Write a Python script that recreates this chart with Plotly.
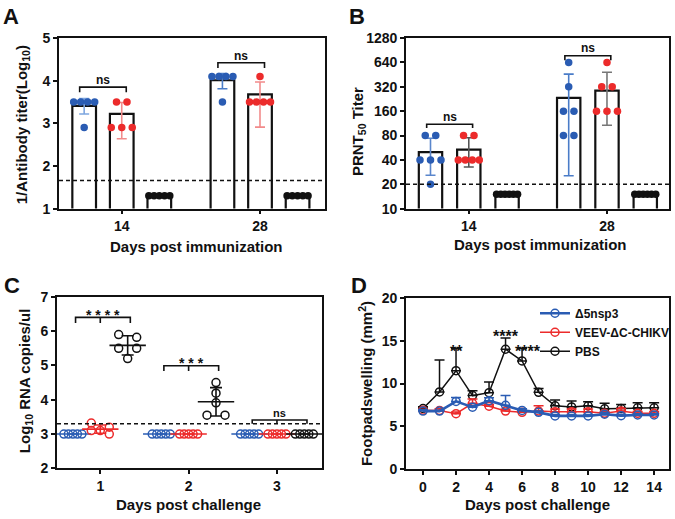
import numpy as np
import plotly.graph_objects as go

W, H = 675, 519
FONT = "Liberation Sans, Arial, Helvetica, sans-serif"
BLUE = "#2a5cb3"
RED = "#ec2b2b"
BLACK = "#111111"
LBLUE = "#7ea6e0"
LRED = "#f28b8b"

# ---------------- Panel A data ----------------
a_days = ["14", "28"]
a_blue_mean = [3.41, 4.01]
a_blue_hi = [3.58, 4.17]
a_blue_lo = [3.22, 3.81]
a_red_mean = [3.22, 3.68]
a_red_hi = [3.49, 3.97]
a_red_lo = [2.64, 2.91]
a_pbs_mean = [1.30, 1.30]
a_blue_pts = [[3.5, 3.5, 3.5, 3.5, 2.9], [4.1, 4.1, 4.1, 4.1, 3.5]]
a_red_pts = [[3.5, 3.5, 2.9, 2.9, 2.9], [4.1, 3.5, 3.5, 3.5, 3.5]]
a_pbs_pts = [[1.3, 1.3, 1.3, 1.3, 1.3], [1.3, 1.3, 1.3, 1.3, 1.3]]
a_cutoff = 1.66
a_yticks = [1, 2, 3, 4, 5]

# ---------------- Panel B data ----------------
b_days = ["14", "28"]
b_blue_mean = [50, 234]
b_blue_hi = [74, 458]
b_blue_lo = [25.8, 25.5]
b_red_mean = [53.5, 286]
b_red_hi = [75, 484]
b_red_lo = [32.7, 107]
b_pbs_mean = [15, 15]
b_blue_pts = [[80, 80, 40, 40, 40, 20], [640, 320, 160, 160, 80, 80]]
b_red_pts = [[80, 80, 40, 40, 40, 40], [640, 320, 320, 160, 160, 160]]
b_pbs_pts = [[15, 15, 15, 15, 15, 15], [15, 15, 15, 15, 15, 15]]
b_cutoff = 20
b_yticks = [10, 20, 40, 80, 160, 320, 640, 1280]

# ---------------- Panel C data ----------------
c_days = [1, 2, 3]
c_blue = [[3, 3, 3, 3, 3], [3, 3, 3, 3, 3], [3, 3, 3, 3, 3]]
c_red = [[3.32, 3.2, 3.1, 3.1, 3.0], [3, 3, 3, 3, 3], [3, 3, 3, 3, 3]]
c_pbs = [[5.9, 5.82, 5.5, 5.5, 5.2], [4.5, 4.19, 3.91, 3.55, 3.55], [3, 3, 3, 3, 3]]
c_cutoff = 3.3
c_stars = ["* * * *", "* * *", "ns"]

# ---------------- Panel D data ----------------
d_days = list(range(15))
d_blue = [6.79, 6.79, 7.92, 7.25, 8.0, 7.47, 6.87, 6.64, 6.23, 6.23, 6.23, 6.42, 6.26, 6.34, 6.34]
d_blue_sd = [0.15, 0.1, 0.46, 0.2, 0.35, 1.13, 0.2, 0.15, 0.15, 0.15, 0.15, 0.2, 0.15, 0.15, 0.15]
d_red = [6.9, 6.87, 6.49, 7.7, 7.36, 6.79, 6.64, 6.79, 6.72, 6.72, 6.72, 6.53, 6.79, 6.53, 6.53]
d_red_sd = [0.1, 0.2, 0.2, 0.5, 0.2, 0.2, 0.2, 0.61, 0.3, 0.3, 0.3, 0.2, 0.3, 0.2, 0.2]
d_pbs = [7.09, 9.02, 11.5, 8.6, 8.94, 14.0, 12.64, 8.98, 7.4, 7.28, 7.4, 7.06, 7.09, 7.17, 7.17]
d_pbs_sd = [0.2, 3.73, 2.58, 0.57, 1.25, 1.3, 1.44, 0.45, 0.68, 0.68, 0.49, 0.64, 0.46, 0.6, 0.6]
d_names = ["Δ5nsp3", "VEEV-ΔC-CHIKV", "PBS"]
d_star_days = [2, 5, 6.37]
d_star_y = [13.7, 15.5, 13.7]
d_star_txt = ["**", "****", "****"]

# ---------------- layout geometry (pixels) ----------------
def dom_x(l, r):
    return [l / W, r / W]

def dom_y(t, b):
    return [1 - b / H, 1 - t / H]

A_DX, A_DY = (59, 325), (31, 207)
B_DX, B_DY = (406, 669), (31, 207)
C_DX, C_DY = (57, 322), (298, 475)
D_DX, D_DY = (406, 669), (299, 476)

A_XR = [-1.67, 5.41]
B_XR = [-1.64, 5.23]
C_XR = [0.51, 3.51]
D_XR = [-1.03, 14.9]
A_YR = [1, 5]
B_YR = [1, np.log10(1280)]
C_YR = [2, 7]
D_YR = [0, 20]

a_centers = [0, 3.68]
b_centers = [0, 3.61]

def ppu(dom, rng):
    return (dom[1] - dom[0]) / (rng[1] - rng[0])

def swarm(values, center, xppu, v2px, diam, span, maxsp):
    vals = sorted(values, reverse=True)
    rows = []
    for v in vals:
        if rows and abs(v2px(rows[-1][0]) - v2px(v)) < diam:
            rows[-1].append(v)
        else:
            rows.append([v])
    xs, ys = [], []
    for row in rows:
        n = len(row)
        sp = min(maxsp, span / (n - 1)) if n > 1 else 0
        for i, v in enumerate(row):
            xs.append(center + (i - (n - 1) / 2) * sp / xppu)
            ys.append(v)
    return xs, ys

fig = go.Figure()

def bracket(xa, ya, x0, x1, ylow, ytop, mid=None):
    xs = [x0, x0, x1, x1]
    ys = [ylow, ytop, ytop, ylow]
    if mid is not None:
        xs += [None, mid, mid]
        ys += [None, ytop, ylow]
    fig.add_trace(go.Scatter(x=xs, y=ys, mode="lines", xaxis=xa, yaxis=ya,
                             line=dict(color=BLACK, width=1.6), showlegend=False,
                             hoverinfo="skip"))

# ---------------- Panel A ----------------
axp = ppu(A_DX, A_XR)
ayp = ppu(A_DY, A_YR)
bw_a = 0.63
for means, off in [(a_blue_mean, -1), (a_red_mean, 0), (a_pbs_mean, 1)]:
    fig.add_trace(go.Bar(x=[c + off for c in a_centers], y=means, width=bw_a,
                         marker=dict(color="white", line=dict(color=BLACK, width=2.2)),
                         xaxis="x", yaxis="y", showlegend=False))
err_cols_a = [[LBLUE, "#4a7cc8"], [LRED, LRED]]
for gi, (means, hi, lo, off) in enumerate([(a_blue_mean, a_blue_hi, a_blue_lo, -1),
                                          (a_red_mean, a_red_hi, a_red_lo, 0)]):
    for j in range(2):
        fig.add_trace(go.Scatter(x=[a_centers[j] + off], y=[means[j]], mode="markers",
                                 marker=dict(size=1, color="rgba(0,0,0,0)"),
                                 error_y=dict(type="data", symmetric=False,
                                              array=[hi[j] - means[j]],
                                              arrayminus=[means[j] - lo[j]],
                                              color=err_cols_a[gi][j], thickness=1.6, width=5),
                                 xaxis="x", yaxis="y", showlegend=False))
for pts, off, col in [(a_blue_pts, -1, BLUE), (a_red_pts, 0, RED), (a_pbs_pts, 1, BLACK)]:
    for j in range(2):
        xs, ys = swarm(pts[j], a_centers[j] + off, axp, lambda v: v * ayp, 7, 21, 10.5)
        fig.add_trace(go.Scatter(x=xs, y=ys, mode="markers",
                                 marker=dict(size=7.5, color=col),
                                 xaxis="x", yaxis="y", showlegend=False))
fig.add_trace(go.Scatter(x=A_XR, y=[a_cutoff, a_cutoff], mode="lines",
                         line=dict(color=BLACK, width=1.6, dash="4px,3px"),
                         xaxis="x", yaxis="y", showlegend=False))
bracket("x", "y", a_centers[0] - 1.12, a_centers[0] + 0.12, 3.73, 3.85)
bracket("x", "y", a_centers[1] - 1.12, a_centers[1] + 0.12, 4.30, 4.42)

# ---------------- Panel B ----------------
bxp = ppu(B_DX, B_XR)
byp = ppu(B_DY, B_YR)
bw_b = 0.61
for means, off in [(b_blue_mean, -1), (b_red_mean, 0), (b_pbs_mean, 1)]:
    fig.add_trace(go.Bar(x=[c + off for c in b_centers], y=means, width=bw_b,
                         marker=dict(color="white", line=dict(color=BLACK, width=2.2)),
                         xaxis="x2", yaxis="y2", showlegend=False))
err_cols_b = [["#5a86cc", "#4a7cc8"], ["#555555", "#777777"]]
for gi, (means, hi, lo, off) in enumerate([(b_blue_mean, b_blue_hi, b_blue_lo, -1),
                                          (b_red_mean, b_red_hi, b_red_lo, 0)]):
    for j in range(2):
        fig.add_trace(go.Scatter(x=[b_centers[j] + off], y=[means[j]], mode="markers",
                                 marker=dict(size=1, color="rgba(0,0,0,0)"),
                                 error_y=dict(type="data", symmetric=False,
                                              array=[hi[j] - means[j]],
                                              arrayminus=[means[j] - lo[j]],
                                              color=err_cols_b[gi][j], thickness=1.6, width=5),
                                 xaxis="x2", yaxis="y2", showlegend=False))
for pts, off, col in [(b_blue_pts, -1, BLUE), (b_red_pts, 0, RED), (b_pbs_pts, 1, BLACK)]:
    for j in range(2):
        xs, ys = swarm(pts[j], b_centers[j] + off, bxp, lambda v: np.log10(v) * byp, 7, 21, 10.5)
        fig.add_trace(go.Scatter(x=xs, y=ys, mode="markers",
                                 marker=dict(size=7.5, color=col),
                                 xaxis="x2", yaxis="y2", showlegend=False))
fig.add_trace(go.Scatter(x=B_XR, y=[b_cutoff, b_cutoff], mode="lines",
                         line=dict(color=BLACK, width=1.6, dash="4px,3px"),
                         xaxis="x2", yaxis="y2", showlegend=False))
bracket("x2", "y2", b_centers[0] - 1.1, b_centers[0] + 0.1, 99, 110)
bracket("x2", "y2", b_centers[1] - 1.1, b_centers[1] + 0.1, 680, 773)

# ---------------- Panel C ----------------
cxp = ppu(C_DX, C_XR)
cyp = ppu(C_DY, C_YR)
c_off = [-0.31, 0.0, 0.31]
for data, off, col in [(c_blue, c_off[0], BLUE), (c_red, c_off[1], RED), (c_pbs, c_off[2], BLACK)]:
    for j, d in enumerate(c_days):
        xs, ys = swarm(data[j], d + off, cxp, lambda v: v * cyp, 7, 18, 18)
        fig.add_trace(go.Scatter(x=xs, y=ys, mode="markers",
                                 marker=dict(size=8, symbol="circle-open", color=col,
                                             line=dict(width=1.5, color=col)),
                                 xaxis="x3", yaxis="y3", showlegend=False))
        m = float(np.mean(data[j]))
        sd = float(np.std(data[j], ddof=1))
        fig.add_trace(go.Scatter(x=[d + off], y=[m], mode="markers",
                                 marker=dict(size=26, symbol="line-ew", color=col,
                                             line=dict(width=1.6, color=col)),
                                 error_y=dict(type="data", array=[sd], color=col,
                                              thickness=1.6, width=6),
                                 xaxis="x3", yaxis="y3", showlegend=False))
fig.add_trace(go.Scatter(x=C_XR, y=[c_cutoff, c_cutoff], mode="lines",
                         line=dict(color=BLACK, width=1.6, dash="4px,3px"),
                         xaxis="x3", yaxis="y3", showlegend=False))
c_br = [(6.24, 6.40), (4.84, 4.99), (3.30, 3.41)]
for j, d in enumerate(c_days):
    bracket("x3", "y3", d + c_off[0] + 0.03, d + c_off[2] + 0.03, c_br[j][0], c_br[j][1], mid=d)

# ---------------- Panel D ----------------
for name, vals, sd, col, lw in [("PBS", d_pbs, d_pbs_sd, BLACK, 1.5),
                                ("VEEV-ΔC-CHIKV", d_red, d_red_sd, RED, 1.5),
                                ("Δ5nsp3", d_blue, d_blue_sd, BLUE, 2.6)]:
    fig.add_trace(go.Scatter(x=d_days, y=vals, mode="lines+markers", name=name,
                             line=dict(color=col, width=lw),
                             marker=dict(size=8, symbol="circle-open", color=col,
                                         line=dict(width=1.5, color=col)),
                             error_y=dict(type="data", symmetric=False, array=sd,
                                          arrayminus=[0] * len(sd), color=col,
                                          thickness=1.5, width=5),
                             xaxis="x4", yaxis="y4", showlegend=True))

# ---------------- Annotations ----------------
ann = []

def pann(text, px, py, size, angle=0, xanchor="center", yanchor="middle"):
    ann.append(dict(text=text, x=px / W, y=1 - py / H, xref="paper", yref="paper",
                    showarrow=False, textangle=angle, xanchor=xanchor, yanchor=yanchor,
                    font=dict(family=FONT, size=size, color=BLACK, weight="bold")))

for letter, px, py in [("A", 1, -6), ("B", 347, -6), ("C", 2, 271), ("D", 349, 271)]:
    pann(letter, px, py, 22, xanchor="left", yanchor="top")

pann("1/Antibody titer(Log<sub>10</sub>)", 22, 121, 15, angle=-90)
pann("PRNT<sub>50</sub> Titer", 358, 128, 15, angle=-90)
pann("Log<sub>10</sub> RNA copies/ul", 25, 385, 15, angle=-90)
pann("Footpadswelling (mm<sup>2</sup>)", 365, 388, 15, angle=-90)
pann("Days post immunization", 196, 246, 15)
pann("Days post immunization", 540, 244, 15)
pann("Days post challenge", 188, 512, 15)
pann("Days post challenge", 537, 512, 15)

def dann(text, x, y, xa, ya, size):
    ann.append(dict(text=text, x=x, y=y, xref=xa, yref=ya, showarrow=False,
                    xanchor="center", yanchor="middle",
                    font=dict(family=FONT, size=size, color=BLACK, weight="bold")))

dann("ns", a_centers[0] - 0.5, 4.01, "x", "y", 12)
dann("ns", a_centers[1] - 0.5, 4.59, "x", "y", 12)
dann("ns", b_centers[0] - 0.5, np.log10(135), "x2", "y2", 12)
dann("ns", b_centers[1] - 0.5, np.log10(960), "x2", "y2", 12)
c_star_y = [6.48, 5.07, 3.62]
for j, d in enumerate(c_days):
    dann(c_stars[j], d + 0.03, c_star_y[j], "x3", "y3", 14 if j < 2 else 11)
for x, y, t in zip(d_star_days, d_star_y, d_star_txt):
    dann(t, x, y, "x4", "y4", 16)

axis_common = dict(showline=True, linecolor=BLACK, linewidth=1.6, mirror=True,
                   ticks="outside", tickcolor=BLACK, tickwidth=1.6, ticklen=4,
                   showgrid=False, zeroline=False,
                   tickfont=dict(family=FONT, size=14, color=BLACK, weight="bold"))

fig.update_layout(
    width=W, height=H, margin=dict(l=0, r=0, t=0, b=0),
    paper_bgcolor="white", plot_bgcolor="white", barmode="overlay",
    font=dict(family=FONT, color=BLACK),
    xaxis=dict(domain=dom_x(*A_DX), range=A_XR, tickvals=a_centers, ticktext=a_days,
               anchor="y", **axis_common),
    yaxis=dict(domain=dom_y(*A_DY), range=A_YR, tickvals=a_yticks, anchor="x", **axis_common),
    xaxis2=dict(domain=dom_x(*B_DX), range=B_XR, tickvals=b_centers, ticktext=b_days,
                anchor="y2", **axis_common),
    yaxis2=dict(domain=dom_y(*B_DY), type="log", range=B_YR, tickvals=b_yticks,
                ticktext=[str(t) for t in b_yticks], anchor="x2", **axis_common),
    xaxis3=dict(domain=dom_x(*C_DX), range=C_XR, tickvals=c_days, anchor="y3", **axis_common),
    yaxis3=dict(domain=dom_y(*C_DY), range=C_YR, dtick=1, anchor="x3", **axis_common),
    xaxis4=dict(domain=dom_x(*D_DX), range=D_XR, tickvals=list(range(0, 15, 2)),
                anchor="y4", **axis_common),
    yaxis4=dict(domain=dom_y(*D_DY), range=D_YR, tickvals=[0, 5, 10, 15, 20],
                anchor="x4", **axis_common),
    legend=dict(x=535 / W, y=1 - 300 / H, xanchor="left", yanchor="top",
                traceorder="reversed", bgcolor="rgba(0,0,0,0)", tracegroupgap=0,
                font=dict(family=FONT, size=12, color=BLACK, weight="bold")),
    annotations=ann,
)

fig.write_html("out.html", config={"displayModeBar": False},
               post_script="document.body.style.margin='0';document.body.style.overflow='hidden';")
